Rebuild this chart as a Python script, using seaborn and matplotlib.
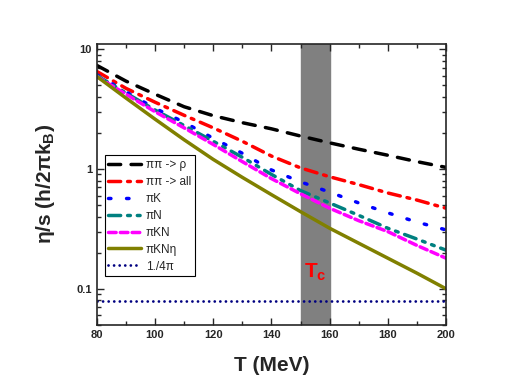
import numpy as np
import pandas as pd
import matplotlib
matplotlib.use("Agg")
import matplotlib.pyplot as plt
import seaborn as sns
from matplotlib.ticker import FixedLocator, FuncFormatter, LogLocator, NullFormatter

T = [80, 90, 100, 110, 120, 130, 140, 150, 160, 170, 180, 190, 200]
pipi_rho = [7.3, 5.4, 4.2, 3.3, 2.78, 2.43, 2.16, 1.88, 1.65, 1.46, 1.3, 1.15, 1.03]
pipi_all = [6.5, 4.7, 3.6, 2.8, 2.2, 1.7, 1.28, 1.02, 0.86, 0.74, 0.63, 0.55, 0.47]
piK = [6.1, 4.4, 3.2, 2.45, 1.8, 1.35, 0.98, 0.78, 0.64, 0.52, 0.43, 0.36, 0.31]
piN = [6.0, 4.3, 3.1, 2.3, 1.7, 1.25, 0.9, 0.66, 0.52, 0.41, 0.32, 0.26, 0.21]
piKN = [5.9, 4.2, 3.0, 2.2, 1.6, 1.15, 0.83, 0.62, 0.47, 0.37, 0.3, 0.23, 0.18]
piKNeta = [5.9, 3.9, 2.6, 1.75, 1.2, 0.85, 0.61, 0.44, 0.32, 0.24, 0.18, 0.135, 0.1]
kss = [1 / (4 * np.pi)] * len(T)

series = [
    ("ππ -> ρ", pipi_rho, "black", (0, (3.5, 3))),
    ("ππ -> all", pipi_all, "red", (0, (3.5, 2, 0.8, 2))),
    ("πK", piK, "blue", (0, (0.7, 4.5))),
    ("πN", piN, "#008080", (0, (3.5, 2, 0.8, 2, 0.8, 2))),
    ("πKN", piKN, "magenta", (0, (2.2, 1.2))),
    ("πKNη", piKNeta, "#808000", "-"),
    ("1./4π", kss, "#000080", (0, (0.01, 2))),
]

sns.set_style("ticks")
plt.rcParams["font.family"] = ["Liberation Sans", "DejaVu Sans"]
plt.rcParams["mathtext.fontset"] = "custom"
plt.rcParams["mathtext.rm"] = "Liberation Sans"
plt.rcParams["mathtext.bf"] = "Liberation Sans:bold"

fig = plt.figure(figsize=(5.18, 3.9), dpi=100)
ax = fig.add_axes([0.187, 0.167, 0.674, 0.72])

ax.axvspan(150, 160, color="#808080", zorder=0)

for label, vals, color, ls in series:
    df = pd.DataFrame({"T": T, "v": vals})
    lw = 2.0 if label == "1./4π" else 2.5
    sns.lineplot(data=df, x="T", y="v", ax=ax, color=color, linestyle=ls,
                 linewidth=lw, label=label, dash_capstyle="round")

ax.set_yscale("log")
ax.set_xlim(80, 200)
ax.set_ylim(0.05, 11)

ax.xaxis.set_major_locator(FixedLocator([80, 100, 120, 140, 160, 180, 200]))
ax.xaxis.set_minor_locator(FixedLocator([90, 110, 130, 150, 170, 190]))
ax.yaxis.set_major_locator(FixedLocator([0.1, 1, 10]))
ax.yaxis.set_minor_locator(LogLocator(base=10, subs=np.arange(2, 10)))
ax.yaxis.set_major_formatter(FuncFormatter(lambda v, p: "%g" % v))
ax.yaxis.set_minor_formatter(NullFormatter())
ax.tick_params(which="both", direction="in", top=True, right=True, width=1)
ax.tick_params(which="major", length=5, labelsize=8)
ax.tick_params(which="minor", length=3)
for lab in ax.get_xticklabels() + ax.get_yticklabels():
    lab.set_fontweight("bold")
for sp in ax.spines.values():
    sp.set_linewidth(1.2)

ax.set_xlabel("T (MeV)", fontsize=15, fontweight="bold", labelpad=12)
ax.set_ylabel(r"η/s (h/2πk$_\mathbf{B}$)", fontsize=15, fontweight="bold", labelpad=14)

ax.text(151.3, 0.125, r"T$_\mathbf{c}$", color="red", fontsize=15, fontweight="bold")

leg = ax.legend(loc="upper left", bbox_to_anchor=(0.005, 0.625), fontsize=8.5,
                handlelength=2.8, handletextpad=0.4, labelspacing=0.42,
                borderpad=0.3, fancybox=False, framealpha=1)
leg.get_frame().set_edgecolor("black")
leg.get_frame().set_linewidth(0.8)

fig.savefig("out.png", dpi=100)
